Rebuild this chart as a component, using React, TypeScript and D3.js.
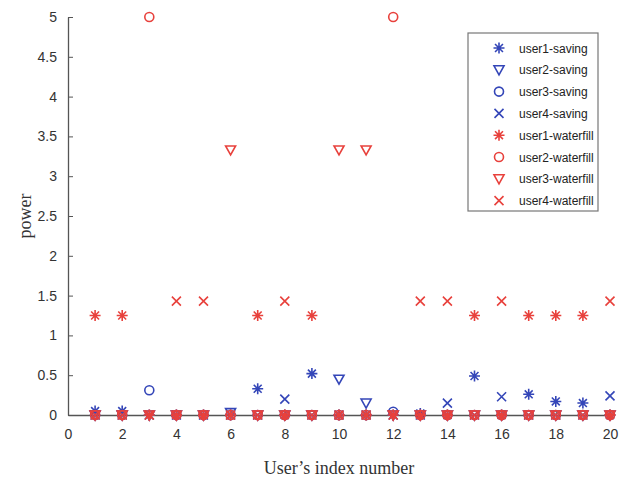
import React, { useEffect, useRef } from "react";
import * as d3 from "d3";

// user index 1..20
const users = [1, 2, 3, 4, 5, 6, 7, 8, 9, 10, 11, 12, 13, 14, 15, 16, 17, 18, 19, 20];

// power saving scheme
const user1Saving = [0.05, 0.05, 0, 0, 0, 0, 0.33, 0, 0.52, 0, 0, 0, 0.02, 0, 0.49, 0, 0.26, 0.17, 0.15, 0];
const user2Saving = [0, 0, 0, 0, 0, 0.03, 0, 0, 0, 0.45, 0.15, 0, 0, 0, 0, 0, 0, 0, 0, 0];
const user3Saving = [0, 0, 0.31, 0, 0, 0, 0, 0, 0, 0, 0, 0.04, 0, 0, 0, 0, 0, 0, 0, 0];
const user4Saving = [0, 0, 0, 0, 0, 0, 0, 0.2, 0, 0, 0, 0, 0, 0.15, 0, 0.23, 0, 0, 0, 0.24];

// waterfilling
const user1Water = [1.25, 1.25, 0, 0, 0, 0, 1.25, 0, 1.25, 0, 0, 0, 0, 0, 1.25, 0, 1.25, 1.25, 1.25, 0];
const user2Water = [0, 0, 5, 0, 0, 0, 0, 0, 0, 0, 0, 5, 0, 0, 0, 0, 0, 0, 0, 0];
const user3Water = [0, 0, 0, 0, 0, 3.33, 0, 0, 0, 3.33, 3.33, 0, 0, 0, 0, 0, 0, 0, 0, 0];
const user4Water = [0, 0, 0, 1.43, 1.43, 0, 0, 1.43, 0, 0, 0, 0, 1.43, 1.43, 0, 1.43, 0, 0, 0, 1.43];

const xTicks = [0, 2, 4, 6, 8, 10, 12, 14, 16, 18, 20];
const yTicks = [0, 0.5, 1, 1.5, 2, 2.5, 3, 3.5, 4, 4.5, 5];

const BLUE = "#3446b8";
const RED = "#e8413c";

const series = [
  { name: "user1-saving", values: user1Saving, marker: "star", color: BLUE },
  { name: "user2-saving", values: user2Saving, marker: "tri", color: BLUE },
  { name: "user3-saving", values: user3Saving, marker: "circle", color: BLUE },
  { name: "user4-saving", values: user4Saving, marker: "cross", color: BLUE },
  { name: "user1-waterfill", values: user1Water, marker: "star", color: RED },
  { name: "user2-waterfill", values: user2Water, marker: "circle", color: RED },
  { name: "user3-waterfill", values: user3Water, marker: "tri", color: RED },
  { name: "user4-waterfill", values: user4Water, marker: "cross", color: RED },
];

// marker outlines centred on 0,0
function markerPath(kind: string) {
  if (kind === "star") {
    const r = 5.5, d = r * 0.72;
    return `M${-r},0L${r},0M0,${-r}L0,${r}M${-d},${-d}L${d},${d}M${-d},${d}L${d},${-d}`;
  }
  if (kind === "tri") return "M-5,-4L5,-4L0,5Z";
  if (kind === "cross") return "M-4.5,-4.5L4.5,4.5M-4.5,4.5L4.5,-4.5";
  return "";
}

function drawMarker(g: any, kind: string, color: string) {
  if (kind === "circle") {
    g.append("circle").attr("r", 4.5).attr("fill", "none").attr("stroke", color).attr("stroke-width", 1.6);
  } else {
    g.append("path").attr("d", markerPath(kind)).attr("fill", "none").attr("stroke", color).attr("stroke-width", 1.6);
  }
}

const App = () => {
  const ref = useRef<SVGSVGElement>(null);

  useEffect(() => {
    var svg = d3.select(ref.current);
    svg.selectAll("*").remove();

    var margin = { top: 17, right: 14, bottom: 68, left: 68 },
      w = 624 - margin.left - margin.right,
      h = 483 - margin.top - margin.bottom;

    var x = d3.scaleLinear().domain([0, 20]).range([0, w]);
    var y = d3.scaleLinear().domain([0, 5]).range([h, 0]);

    var container = svg.append("g").attr("transform", `translate(${margin.left}, ${margin.top})`);

    var tickFont = "'Liberation Sans Narrow', 'Liberation Sans', Arial, sans-serif";

    var xAxis = container.append("g").attr("transform", `translate(0, ${h})`)
      .call(d3.axisBottom(x).tickValues(xTicks).tickSizeInner(-5).tickSizeOuter(0).tickPadding(14).tickFormat(d3.format("d")));
    var yAxis = container.append("g")
      .call(d3.axisLeft(y).tickValues(yTicks).tickSizeInner(-5).tickSizeOuter(0).tickPadding(11).tickFormat((d: any) => String(d)));

    [xAxis, yAxis].forEach(a => {
      a.select(".domain").attr("stroke", "#555").attr("stroke-width", 1.3);
      a.selectAll(".tick line").attr("stroke", "#555");
      a.selectAll("text").attr("fill", "#333").style("font-family", tickFont).style("font-size", "14px");
    });

    // blue first, red over it
    series.forEach(s => {
      var grp = container.append("g");
      s.values.forEach((v, i) => {
        var m = grp.append("g").attr("transform", `translate(${x(users[i])}, ${y(v)})`);
        drawMarker(m, s.marker, s.color);
      });
    });

    container.append("text")
      .attr("x", w / 2)
      .attr("y", h + 59)
      .attr("text-anchor", "middle")
      .style("font-family", "'Liberation Serif', 'DejaVu Serif', serif")
      .style("font-size", "18px")
      .attr("fill", "#333")
      .text("User\u2019s index number");

    container.append("text")
      .attr("transform", `translate(${-37}, ${h / 2}) rotate(-90)`)
      .attr("text-anchor", "middle")
      .style("font-family", "'Liberation Serif', 'DejaVu Serif', serif")
      .style("font-size", "18px")
      .attr("fill", "#333")
      .text("power");

    // legend
    var lx = 468 - margin.left, ly = 33 - margin.top;
    var legend = container.append("g").attr("transform", `translate(${lx}, ${ly})`);
    legend.append("rect").attr("width", 130).attr("height", 178)
      .attr("fill", "white").attr("stroke", "#777").attr("stroke-width", 1.2);
    series.forEach((s, i) => {
      var row = legend.append("g").attr("transform", `translate(31, ${15 + i * 21.8})`);
      drawMarker(row, s.marker, s.color);
      row.append("text").attr("x", 20).attr("y", 4.5)
        .style("font-family", tickFont).style("font-size", "12px").attr("fill", "#222")
        .text(s.name);
    });
  }, []);

  return (
    <svg ref={ref} width={624} height={483} style={{ position: "absolute", left: 0, top: 0, background: "white" }}></svg>
  );
};

export default App;
